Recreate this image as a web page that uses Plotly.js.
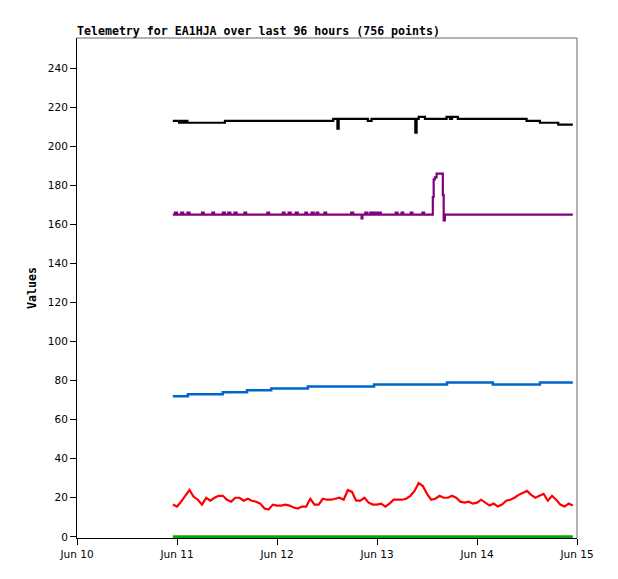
<!DOCTYPE html>
<html>
<head>
<meta charset="utf-8">
<script src="https://cdn.plot.ly/plotly-3.0.1.min.js"></script>
<style>
  html, body { margin: 0; padding: 0; background: #fff; }
  #plot { width: 618px; height: 579px; }
</style>
</head>
<body>
<div id="plot"></div>
<script>
// hours are counted from Jun 10 00:00
var startDay = Date.UTC(2024, 5, 10);

// red channel, read once per hour from hour 23 to hour 119
var redStart = 23;
var redValues = [16.5, 15.5, 18, 21, 24, 20.5, 19, 16.5, 20, 18.5,
  20, 21, 21, 19, 18, 20, 20, 18.5, 19.5, 18.5,
  18, 17, 14.5, 14, 16.5, 16, 16, 16.5, 16, 15,
  14.5, 15.5, 15.5, 19.5, 16.5, 16.5, 19.5, 19, 19, 19.5,
  20, 19, 24, 23, 18.5, 18.5, 20, 17.5, 16.5, 16.5,
  17, 15.5, 17, 19, 19, 19, 19.5, 21, 23.5, 27.5,
  26, 22, 19, 19.5, 21, 20, 20, 21, 20, 18,
  17.5, 18, 17, 17.5, 19, 17.5, 16, 17, 15.5, 16.5,
  18.5, 19, 20, 21.5, 22.5, 23.5, 21.5, 20, 21, 22,
  18.5, 21, 19, 16.5, 15.5, 17, 16];

var greenHours = [23, 119];
var greenValues = [0, 0];

var blueHours = [23, 26.6, 35, 40.8, 46.6, 55.4, 71.3, 88.8, 99.8, 111.1, 119];
var blueValues = [72, 73, 74, 75, 76, 77, 78, 79, 78, 79, 79];

var blackHours = [23, 24.5, 25, 25.5, 26, 26.5, 27, 35.5, 61.5, 62.5, 62.8, 69.8, 70.7,
  81.2, 81.5, 82, 83.5, 88.7, 89.5, 90, 91.4, 107.9, 111.1, 115.5, 119];
var blackValues = [213, 212, 213, 212, 213, 212, 212, 213, 214, 209, 214, 213, 214,
  207, 214, 215, 214, 215, 214, 215, 214, 213, 212, 211, 211];

var purpleHours = [23, 23.5, 24, 25, 25.5, 26.5, 27, 30, 30.4, 32.5, 32.9, 35, 35.5,
  36.3, 36.8, 37.8, 38.3, 40.2, 40.6, 45.7, 46.1, 49.4, 49.8, 50.8, 51.3, 52.5, 53,
  54.8, 55.2, 56.3, 56.8, 57.5, 57.9, 59.4, 59.8, 65.8, 66.3, 68.3, 68.5, 69.2, 69.7,
  70.4, 70.9, 71.4, 71.9, 72.4, 72.9, 76.5, 76.9, 77.9, 78.3, 80.1, 80.5, 82.9, 83.3,
  85.4, 85.6, 85.9, 86.3, 87.8, 88, 88.3, 119];
var purpleValues = [165, 166, 165, 166, 165, 166, 165, 166, 165, 166, 165, 166, 165,
  166, 165, 166, 165, 166, 165, 166, 165, 166, 165, 166, 165, 166, 165,
  166, 165, 166, 165, 166, 165, 166, 165, 166, 165, 163, 165, 166, 165,
  166, 165, 166, 165, 166, 165, 166, 165, 166, 165, 166, 165, 166, 165,
  174, 183, 184, 186, 175, 162, 165, 165];

var yTicks = [0, 20, 40, 60, 80, 100, 120, 140, 160, 180, 200, 220, 240];

function pad(n){ return (n < 10 ? '0' : '') + n; }
function toDate(h){
    var d = new Date(startDay + h * 3600000);
    return d.getUTCFullYear() + '-' + pad(d.getUTCMonth() + 1) + '-' + pad(d.getUTCDate()) +
        ' ' + pad(d.getUTCHours()) + ':' + pad(d.getUTCMinutes()) + ':' + pad(d.getUTCSeconds());
}

var redX = redValues.map(function(v, i){ return toDate(redStart + i); });

var data = [
    {type: 'scatter', mode: 'lines', x: greenHours.map(toDate), y: greenValues,
     line: {color: '#00aa00', width: 3}, hoverinfo: 'skip'},
    {type: 'scatter', mode: 'lines', x: redX, y: redValues,
     line: {color: '#ff0000', width: 2.2}, hoverinfo: 'skip'},
    {type: 'scatter', mode: 'lines', x: blueHours.map(toDate), y: blueValues,
     line: {color: '#0066cc', width: 2.5, shape: 'hv'}, hoverinfo: 'skip'},
    {type: 'scatter', mode: 'lines', x: purpleHours.map(toDate), y: purpleValues,
     line: {color: '#800080', width: 2.2, shape: 'hv'}, hoverinfo: 'skip'},
    {type: 'scatter', mode: 'lines', x: blackHours.map(toDate), y: blackValues,
     line: {color: '#000000', width: 2.2, shape: 'hv'}, hoverinfo: 'skip'}
];

var tickFont = {family: 'DejaVu Sans', size: 10.5, color: '#000'};

var layout = {
    width: 618, height: 579,
    margin: {l: 77, r: 41, t: 38, b: 41},
    paper_bgcolor: '#fff', plot_bgcolor: '#fff',
    showlegend: false,
    title: {
        text: '<b>Telemetry for EA1HJA over last 96 hours (756 points)</b>',
        font: {family: 'DejaVu Sans Mono', size: 11.6, color: '#000'},
        xref: 'paper', x: 0, xanchor: 'left',
        yref: 'container', y: 1 - 31 / 579, yanchor: 'middle'
    },
    xaxis: {
        type: 'date',
        range: [toDate(0), toDate(120)],
        dtick: 86400000, tick0: toDate(0), tickformat: '%b %d',
        showgrid: false, zeroline: false,
        showline: true, linecolor: '#000', linewidth: 1,
        ticks: 'outside', ticklen: 6, tickcolor: '#000',
        tickfont: tickFont, layer: 'below traces'
    },
    yaxis: {
        range: [-0.6, 255.4],
        tickvals: yTicks,
        showgrid: false, zeroline: false,
        showline: true, linecolor: '#000', linewidth: 1,
        ticks: 'outside', ticklen: 6, tickcolor: '#000',
        tickfont: tickFont, layer: 'below traces',
        title: {text: '<b>Values</b>', font: {family: 'DejaVu Sans Mono', size: 11.6, color: '#000'}, standoff: 8}
    },
    shapes: [
        {type: 'line', xref: 'paper', yref: 'paper', x0: 0, x1: 1, y0: 1, y1: 1,
         line: {color: '#666', width: 1}},
        {type: 'line', xref: 'paper', yref: 'paper', x0: 1, x1: 1, y0: 0, y1: 1,
         line: {color: '#666', width: 1}}
    ],
    hovermode: false
};

var config = {displayModeBar: false, staticPlot: true};
Plotly.newPlot('plot', data, layout, config);
</script>
</body>
</html>
